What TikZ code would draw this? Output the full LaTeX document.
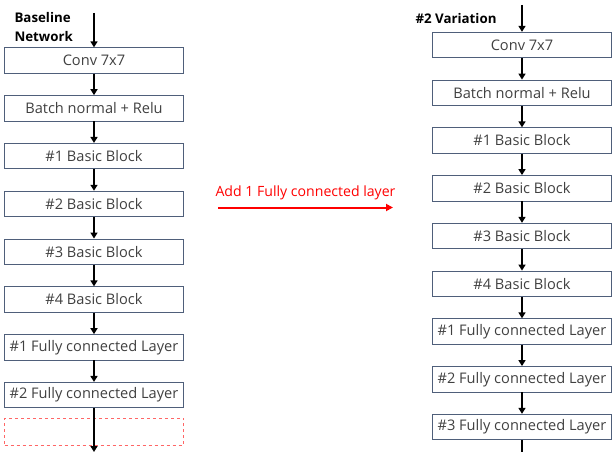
\documentclass[tikz,border=0pt]{standalone}
\usepackage{fontspec}
\setmainfont{Open Sans}
\usetikzlibrary{arrows.meta}
\definecolor{boxline}{HTML}{4F5F7A}
\definecolor{txt}{HTML}{404040}
\begin{document}
\begin{tikzpicture}[x=1pt,y=-1pt,
  layer/.style={draw=boxline,line width=0.8pt,minimum width=179pt,minimum height=25.5pt,
    inner sep=0pt,text=txt,font=\fontsize{14.6}{16}\selectfont},
  flow/.style={line width=1.8pt,-{Triangle[length=6pt,width=7pt]}},
  title/.style={font=\bfseries\fontsize{13.3}{19}\selectfont,align=left,anchor=west}]
\useasboundingbox (0,0) rectangle (614,452);

% baseline network
\node[title] (t1) at (11,27) {Baseline\\Network};
\coordinate (lin) at (94,13);
\node[layer] (l1) at (94,60.5) {Conv 7x7};
\node[layer] (l2) at (94,108.3) {Batch normal + Relu};
\node[layer] (l3) at (94,156.1) {\#1 Basic Block};
\node[layer] (l4) at (94,203.9) {\#2 Basic Block};
\node[layer] (l5) at (94,251.7) {\#3 Basic Block};
\node[layer] (l6) at (94,299.5) {\#4 Basic Block};
\node[layer] (l7) at (94,347.3) {\#1 Fully connected Layer};
\node[layer] (l8) at (94,395.1) {\#2 Fully connected Layer};
\node[draw=red!60,dashed,line width=0.8pt,minimum width=179pt,minimum height=27pt] (l9) at (94,431.5) {};
\coordinate (lout) at (94,452);
\draw[flow] (lin) -- (l1);
\foreach \a/\b in {l1/l2,l2/l3,l3/l4,l4/l5,l5/l6,l6/l7,l7/l8}
  \draw[flow] (\a) -- (\b);
\draw[flow] (l8.south) -- (lout);

% change between the two networks
\coordinate (ra) at (218,207.5);
\coordinate (rb) at (393,207.5);
\draw[red,line width=2pt,-{Triangle[length=7pt,width=7pt]}] (ra) -- (rb)
  node[midway,above=3pt,text=red,font=\fontsize{14.1}{16}\selectfont] (rl) {Add 1 Fully connected layer};

% variation network
\node[title] (t2) at (412,18.5) {\#2 Variation};
\coordinate (rin) at (522,5);
\node[layer] (r1) at (522,45) {Conv 7x7};
\node[layer] (r2) at (522,92.75) {Batch normal + Relu};
\node[layer] (r3) at (522,140.5) {\#1 Basic Block};
\node[layer] (r4) at (522,188.25) {\#2 Basic Block};
\node[layer] (r5) at (522,236) {\#3 Basic Block};
\node[layer] (r6) at (522,283.75) {\#4 Basic Block};
\node[layer] (r7) at (522,331.5) {\#1 Fully connected Layer};
\node[layer] (r8) at (522,379.25) {\#2 Fully connected Layer};
\node[layer] (r9) at (522,427) {\#3 Fully connected Layer};
\coordinate (rout) at (522,458);
\draw[flow] (rin) -- (r1);
\foreach \a/\b in {r1/r2,r2/r3,r3/r4,r4/r5,r5/r6,r6/r7,r7/r8,r8/r9}
  \draw[flow] (\a) -- (\b);
\draw[flow] (r9.south) -- (rout);
\end{tikzpicture}
\end{document}
